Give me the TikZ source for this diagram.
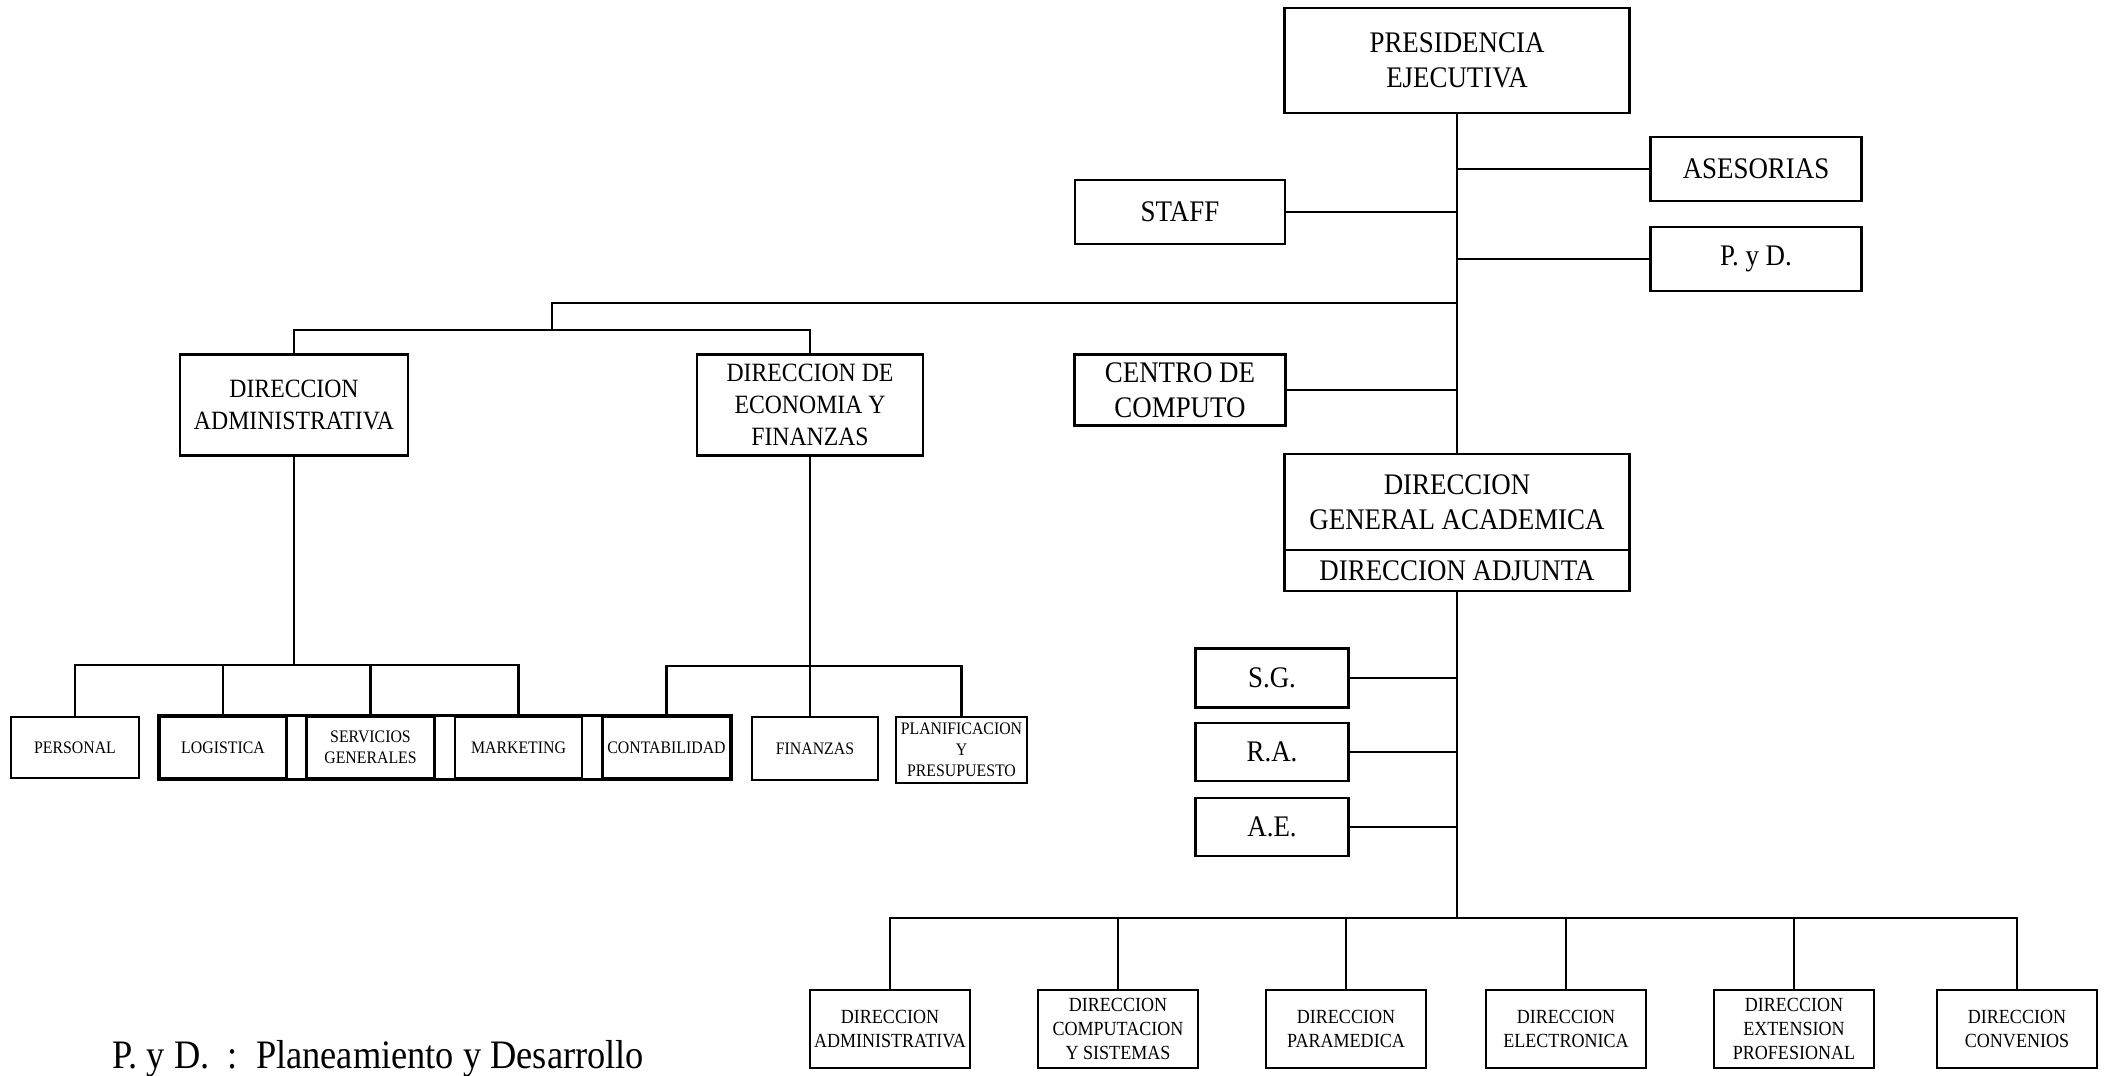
\documentclass[tikz,border=0pt]{standalone}
\usepackage{fontspec}
\setmainfont{Liberation Serif}[FakeStretch=0.9]
\usepackage{tikz}

\begin{document}
\begin{tikzpicture}[x=0.01cm,y=-0.01cm,
  caja/.style={draw,line width=0.8pt,align=center,inner sep=0pt},
  grande/.style={caja,font=\fontsize{8.5}{10}\selectfont},
  media/.style={caja,font=\fontsize{7.5}{9}\selectfont},
  chica/.style={caja,font=\fontsize{5}{6}\selectfont,minimum width=1.28cm,minimum height=0.61cm},
  unidad/.style={caja,font=\fontsize{5.7}{6.8}\selectfont,minimum width=1.6cm,minimum height=0.78cm},
  linea/.style={line width=0.6pt}]
\useasboundingbox (0,0) rectangle (2105,1076);
\node[grande,minimum width=3.45cm,minimum height=1.05cm](pres) at (1457,60.5){PRESIDENCIA\\EJECUTIVA};
\node[grande,minimum width=2.11cm,minimum height=0.64cm](ases) at (1756,169){ASESORIAS};
\node[grande,minimum width=2.10cm,minimum height=0.64cm](staff) at (1180,212){STAFF};
\node[grande,minimum width=2.11cm,minimum height=0.64cm](pyd) at (1756,259){P. y D.};
\node[grande,minimum width=2.11cm,minimum height=0.71cm](cc) at (1180,390){CENTRO DE\\COMPUTO};
\node[grande,minimum width=3.45cm,minimum height=0.96cm](dga) at (1457,502){DIRECCION\\GENERAL ACADEMICA};
\node[grande,minimum width=3.45cm,minimum height=0.41cm](adj) at (1457,570.5){DIRECCION ADJUNTA};
\node[media,minimum width=2.28cm,minimum height=1.01cm](da) at (294,405){DIRECCION\\ADMINISTRATIVA};
\node[media,minimum width=2.26cm,minimum height=1.01cm](def) at (810,405){DIRECCION DE\\ECONOMIA Y\\FINANZAS};
\node[chica](per) at (75,747.5){PERSONAL};
\node[chica,minimum width=1.27cm](log) at (223,747.5){LOGISTICA};
\node[chica](ser) at (370.5,747.5){SERVICIOS\\GENERALES};
\node[chica,minimum width=1.27cm](mar) at (518.5,747.5){MARKETING};
\node[chica](con) at (666.5,747.5){CONTABILIDAD};
\node[chica,minimum width=1.26cm,minimum height=0.63cm](fin) at (815,748.5){FINANZAS};
\node[chica,minimum width=1.31cm,minimum height=0.66cm](pla) at (961.5,750){PLANIFICACION\\Y\\PRESUPUESTO};
\node[grande,minimum width=1.53cm,minimum height=0.59cm](sg) at (1272,678){S.G.};
\node[grande,minimum width=1.53cm,minimum height=0.58cm](ra) at (1272,752){R.A.};
\node[grande,minimum width=1.53cm,minimum height=0.58cm](ae) at (1272,827){A.E.};
\node[unidad](d1) at (890,1029){DIRECCION\\ADMINISTRATIVA};
\node[unidad](d2) at (1118,1029){DIRECCION\\COMPUTACION\\Y SISTEMAS};
\node[unidad](d3) at (1346,1029){DIRECCION\\PARAMEDICA};
\node[unidad](d4) at (1566,1029){DIRECCION\\ELECTRONICA};
\node[unidad](d5) at (1794,1029){DIRECCION\\EXTENSION\\PROFESIONAL};
\node[unidad](d6) at (2017,1029){DIRECCION\\CONVENIOS};
\node[anchor=base west,font=\fontsize{11.5}{13}\selectfont](leyenda) at (100,1068){P. y D.\ \ :\ \ Planeamiento y Desarrollo};
\coordinate (b1) at (552,303);
\coordinate (b2) at (552,330);
\coordinate (bl) at (294,665);
\coordinate (br) at (810,666);
\coordinate (bb) at (1457,918);
\draw[linea](pres) -- (dga);
\draw[linea](adj) -- (bb);
\draw[linea](ases.west) -- (ases.west -| pres.south);
\draw[linea](staff.east) -- (staff.east -| pres.south);
\draw[linea](pyd.west) -- (pyd.west -| pres.south);
\draw[linea](cc.east) -- (cc.east -| pres.south);
\draw[linea](b1 -| pres.south) -- (b1) -- (b2);
\draw[linea](da) |- (b2) -| (def);
\draw[linea](da) -- (bl);
\draw[linea](per) |- (bl) -| (mar);
\draw[linea](log) -- (log |- bl);
\draw[linea](ser) -- (ser |- bl);
\draw[line width=0.8pt](log.north west) rectangle (con.south east);
\draw[linea](def) -- (def |- fin.north);
\draw[linea](con) |- (br) -| (pla);
\draw[linea](sg.east) -- (sg.east -| adj.south);
\draw[linea](ra.east) -- (ra.east -| adj.south);
\draw[linea](ae.east) -- (ae.east -| adj.south);
\draw[linea](d1) |- (bb) -| (d6);
\draw[linea](d2) -- (d2 |- bb);
\draw[linea](d3) -- (d3 |- bb);
\draw[linea](d4) -- (d4 |- bb);
\draw[linea](d5) -- (d5 |- bb);
\end{tikzpicture}
\end{document}
